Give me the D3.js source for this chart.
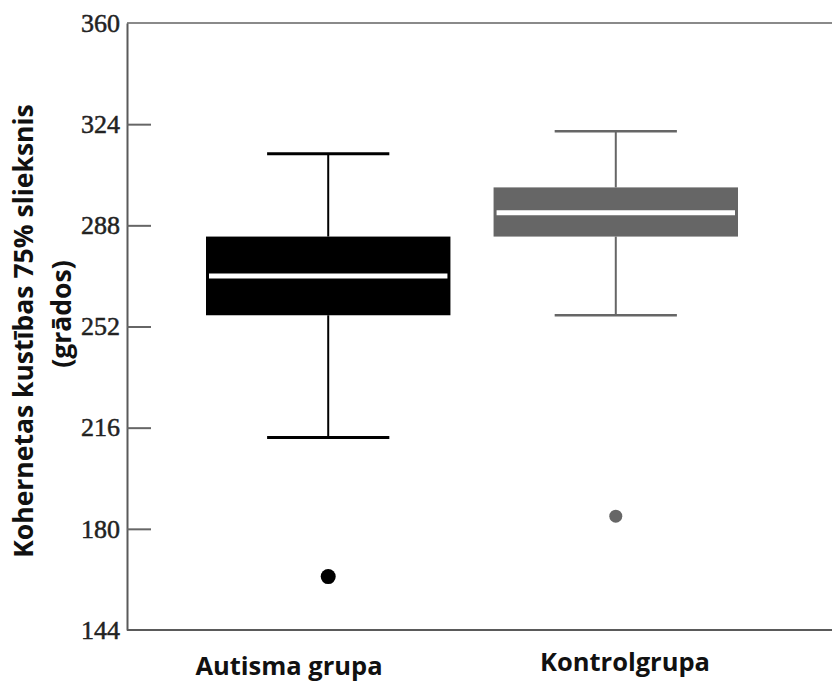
<!DOCTYPE html>
<html>
<head>
<meta charset="utf-8">
<script src="https://cdn.jsdelivr.net/npm/d3@7"></script>
<style>
	body { margin: 0; background: #fff; }
	svg { display: block; }
</style>
</head>
<body>
<svg id="chart" width="832" height="682"></svg>
<script>

// values (degrees)
var groups		= ["Autisma grupa", "Kontrolgrupa"];
var whiskerLow	= [212.5, 256];
var q1			= [256, 284];
var median		= [270, 292.5];
var q3			= [284, 301.5];
var whiskerHigh	= [313.5, 321.5];
var outliers	= [163, 184.5];
var yTicks		= [144, 180, 216, 252, 288, 324, 360];

var boxFill		= ["#000000", "#666666"];
var dotRadius	= [7.5, 6.5];

var WIDTH	= 832;
var AXIS_X	= 127;
var TOP_Y	= 23;
var BOT_Y	= 630;

var SANS	= "'Open Sans', 'Noto Sans', sans-serif";

var svg = d3.select("#chart");

var y = d3.scaleLinear()
	.domain([144, 360])
	.range([BOT_Y, TOP_Y]);

var x = d3.scaleBand()
	.domain(groups)
	.range([206, 738])
	.paddingInner(0.15)
	.paddingOuter(0);

// frame lines top and bottom
svg.append("line")
	.attr("x1", AXIS_X).attr("x2", WIDTH)
	.attr("y1", TOP_Y).attr("y2", TOP_Y)
	.attr("stroke", "#8a8a8a")
	.attr("stroke-width", 2);

svg.append("line")
	.attr("x1", AXIS_X).attr("x2", WIDTH)
	.attr("y1", BOT_Y).attr("y2", BOT_Y)
	.attr("stroke", "#5a5a5a")
	.attr("stroke-width", 2);

// y axis, ticks pointing inward
var yAxis = d3.axisLeft(y)
	.tickValues(yTicks)
	.tickSizeInner(-24)
	.tickSizeOuter(0)
	.tickPadding(7)
	.tickFormat(d3.format("d"));

var gy = svg.append("g")
	.attr("transform", "translate(" + AXIS_X + ",0)")
	.call(yAxis);

gy.select(".domain")
	.attr("stroke", "#5a5a5a")
	.attr("stroke-width", 2);

gy.selectAll(".tick line")
	.attr("stroke", "#666")
	.attr("stroke-width", 2)
	.attr("display", function(d) { return ( d == 144 || d == 360 ) ? "none" : null; });

gy.selectAll(".tick text")
	.attr("fill", "#222")
	.attr("stroke", "#222")
	.attr("stroke-width", 0.5)
	.style("font-family", "'Liberation Serif', 'DejaVu Serif', serif")
	.style("font-size", "26px");

// boxes
var box = svg.selectAll("g.box")
	.data(groups)
	.enter()
	.append("g")
	.attr("class", "box");

box.each(function(g, i) {

	var el		= d3.select(this);
	var cx		= x(g) + x.bandwidth() / 2;
	var bw		= x.bandwidth();
	var color	= boxFill[i];
	var capW	= bw / 2;

	// whisker stems
	el.append("line")
		.attr("x1", cx).attr("x2", cx)
		.attr("y1", y(whiskerHigh[i])).attr("y2", y(q3[i]))
		.attr("stroke", color).attr("stroke-width", 2);

	el.append("line")
		.attr("x1", cx).attr("x2", cx)
		.attr("y1", y(q1[i])).attr("y2", y(whiskerLow[i]))
		.attr("stroke", color).attr("stroke-width", 2);

	// caps
	[whiskerHigh[i], whiskerLow[i]].forEach(function(v) {
		el.append("line")
			.attr("x1", cx - capW / 2).attr("x2", cx + capW / 2)
			.attr("y1", y(v)).attr("y2", y(v))
			.attr("stroke", color)
			.attr("stroke-width", i == 0 ? 3 : 2.5);
	});

	el.append("rect")
		.attr("x", x(g))
		.attr("y", y(q3[i]))
		.attr("width", bw)
		.attr("height", y(q1[i]) - y(q3[i]))
		.attr("fill", color);

	el.append("line")
		.attr("x1", x(g) + 3).attr("x2", x(g) + bw - 3)
		.attr("y1", y(median[i])).attr("y2", y(median[i]))
		.attr("stroke", "#fff")
		.attr("stroke-width", 5);

	el.append("circle")
		.attr("cx", cx)
		.attr("cy", y(outliers[i]))
		.attr("r", dotRadius[i])
		.attr("fill", color);
});

// category labels under the plot
svg.selectAll("text.group")
	.data(groups)
	.enter()
	.append("text")
	.attr("class", "group")
	.attr("x", function(d, i) { return i == 0 ? 289 : 625; })
	.attr("y", function(d, i) { return i == 0 ? 675 : 671; })
	.attr("text-anchor", "middle")
	.attr("fill", "#111")
	.style("font-family", SANS)
	.style("font-weight", "bold")
	.style("font-size", "25.5px")
	.text(function(d) { return d; });

// y title, two lines
svg.append("text")
	.attr("transform", "translate(33,331) rotate(-90)")
	.attr("text-anchor", "middle")
	.attr("fill", "#111")
	.style("font-family", SANS)
	.style("font-weight", "bold")
	.style("font-size", "26.5px")
	.text("Kohernetas kustības 75% slieksnis");

svg.append("text")
	.attr("transform", "translate(71,314) rotate(-90)")
	.attr("text-anchor", "middle")
	.attr("fill", "#111")
	.style("font-family", SANS)
	.style("font-weight", "bold")
	.style("font-size", "26.5px")
	.text("(grādos)");

</script>
</body>
</html>
